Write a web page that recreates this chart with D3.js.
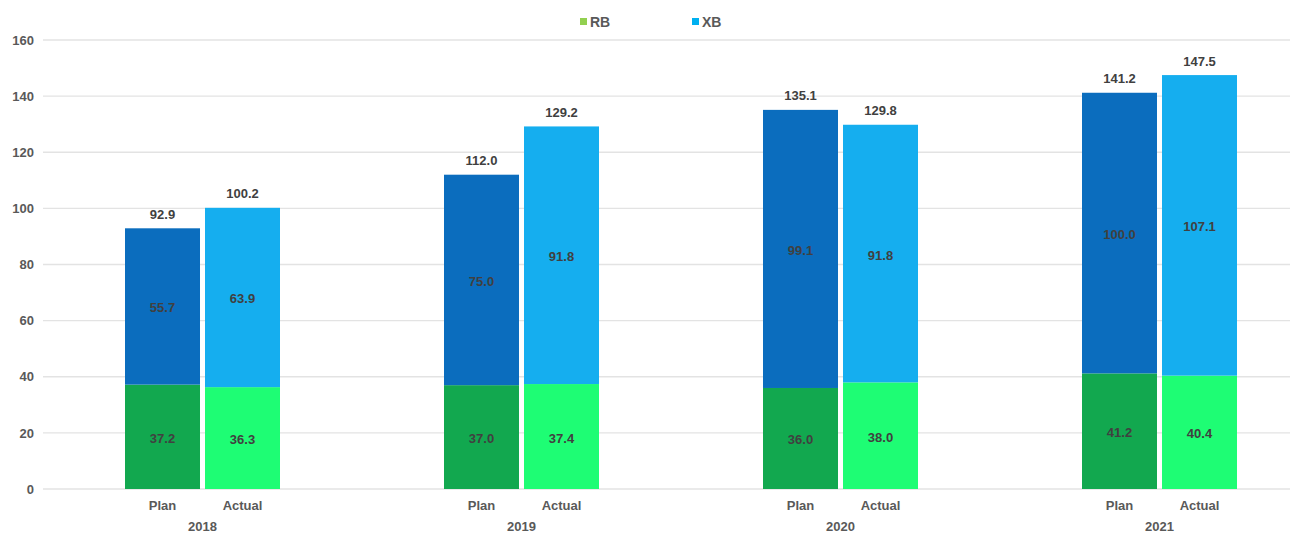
<!DOCTYPE html>
<html>
<head>
<meta charset="utf-8">
<script src="https://cdn.jsdelivr.net/npm/d3@7/dist/d3.min.js"></script>
<style>
  html, body { margin: 0; padding: 0; background: #fff; }
  svg { display: block; font-family: "Liberation Sans", Arial, sans-serif; }
</style>
</head>
<body>
<svg id="chart" width="1290" height="533"></svg>
<script>
const years = ["2018", "2019", "2020", "2021"];
const types = ["Plan", "Actual"];
const rbPlan = [37.2, 37.0, 36.0, 41.2];
const xbPlan = [55.7, 75.0, 99.1, 100.0];
const rbActual = [36.3, 37.4, 38.0, 40.4];
const xbActual = [63.9, 91.8, 91.8, 107.1];
const totalPlan = [92.9, 112.0, 135.1, 141.2];
const totalActual = [100.2, 129.2, 129.8, 147.5];
const yTicks = [0, 20, 40, 60, 80, 100, 120, 140, 160];
const legendItems = ["RB", "XB"];

const colors = {
  Plan: { RB: "#12A84F", XB: "#0B6DBE" },
  Actual: { RB: "#1EFD74", XB: "#15AEEF" }
};
const legendColors = { RB: "#92D050", XB: "#00B0F0" };

const rows = [];
years.forEach((yr, i) => {
  rows.push({ year: yr, type: "Plan", RB: rbPlan[i], XB: xbPlan[i], total: totalPlan[i] });
  rows.push({ year: yr, type: "Actual", RB: rbActual[i], XB: xbActual[i], total: totalActual[i] });
});

const svg = d3.select("#chart");
const plotLeft = 43, plotBottom = 489, plotTop = 40;

const y = d3.scaleLinear().domain([0, 160]).range([plotBottom, plotTop]);
const x0 = d3.scaleBand().domain(years).range([plotLeft, plotLeft + 319 * 4]).padding(0);
const x1 = d3.scaleBand().domain(types).range([0, 160]).padding(0);
const barOff = 2.5, barW = 75;
const groupStart = yr => x0(yr) + x0.bandwidth() / 2 - 80;

// gridlines
svg.append("g").selectAll("line").data(yTicks).join("line")
  .attr("x1", plotLeft).attr("x2", 1290)
  .attr("y1", d => y(d)).attr("y2", d => y(d))
  .attr("stroke", "#e3e3e3").attr("stroke-width", 1.3);

// y axis labels
const yAxis = d3.axisLeft(y).tickValues(yTicks).tickSize(0).tickPadding(0);
const ga = svg.append("g").attr("transform", `translate(34,0)`).call(yAxis);
ga.select(".domain").remove();
ga.selectAll("text").attr("font-size", 13).attr("font-weight", "bold")
  .attr("fill", "#595959").attr("font-family", "Liberation Sans, Arial, sans-serif");

// stacked bars
const stack = d3.stack().keys(["RB", "XB"]);
const series = stack(rows);
const gBars = svg.append("g");
series.forEach(s => {
  const key = s.key;
  gBars.selectAll(null).data(s).join("rect")
    .attr("x", d => groupStart(d.data.year) + x1(d.data.type) + barOff)
    .attr("width", barW)
    .attr("y", d => y(d[1]))
    .attr("height", d => y(d[0]) - y(d[1]))
    .attr("fill", d => colors[d.data.type][key]);
  gBars.selectAll(null).data(s).join("text")
    .attr("x", d => groupStart(d.data.year) + x1(d.data.type) + barOff + barW / 2)
    .attr("y", d => y((d[0] + d[1]) / 2) + 6)
    .attr("text-anchor", "middle")
    .attr("font-size", 13).attr("font-weight", "bold").attr("fill", "#404040")
    .text(d => d.data[key].toFixed(1));
});

// totals
svg.append("g").selectAll("text").data(rows).join("text")
  .attr("x", d => groupStart(d.year) + x1(d.type) + barOff + barW / 2)
  .attr("y", d => y(d.total) - 9.5)
  .attr("text-anchor", "middle")
  .attr("font-size", 13).attr("font-weight", "bold").attr("fill", "#404040")
  .text(d => d.total.toFixed(1));

// category labels
svg.append("g").selectAll("text").data(rows).join("text")
  .attr("x", d => groupStart(d.year) + x1(d.type) + barOff + barW / 2)
  .attr("y", 510)
  .attr("text-anchor", "middle")
  .attr("font-size", 13).attr("font-weight", "bold").attr("fill", "#595959")
  .text(d => d.type);

// year labels
svg.append("g").selectAll("text").data(years).join("text")
  .attr("x", d => x0(d) + x0.bandwidth() / 2)
  .attr("y", 531)
  .attr("text-anchor", "middle")
  .attr("font-size", 13).attr("font-weight", "bold").attr("fill", "#595959")
  .text(d => d);

// legend
const legX = [580, 692];
const lg = svg.append("g");
legendItems.forEach((k, i) => {
  lg.append("rect").attr("x", legX[i]).attr("y", 18).attr("width", 7).attr("height", 7)
    .attr("fill", legendColors[k]);
  lg.append("text").attr("x", legX[i] + 10).attr("y", 27)
    .attr("font-size", 14).attr("font-weight", "bold").attr("fill", "#595959")
    .text(k);
});
</script>
</body>
</html>
